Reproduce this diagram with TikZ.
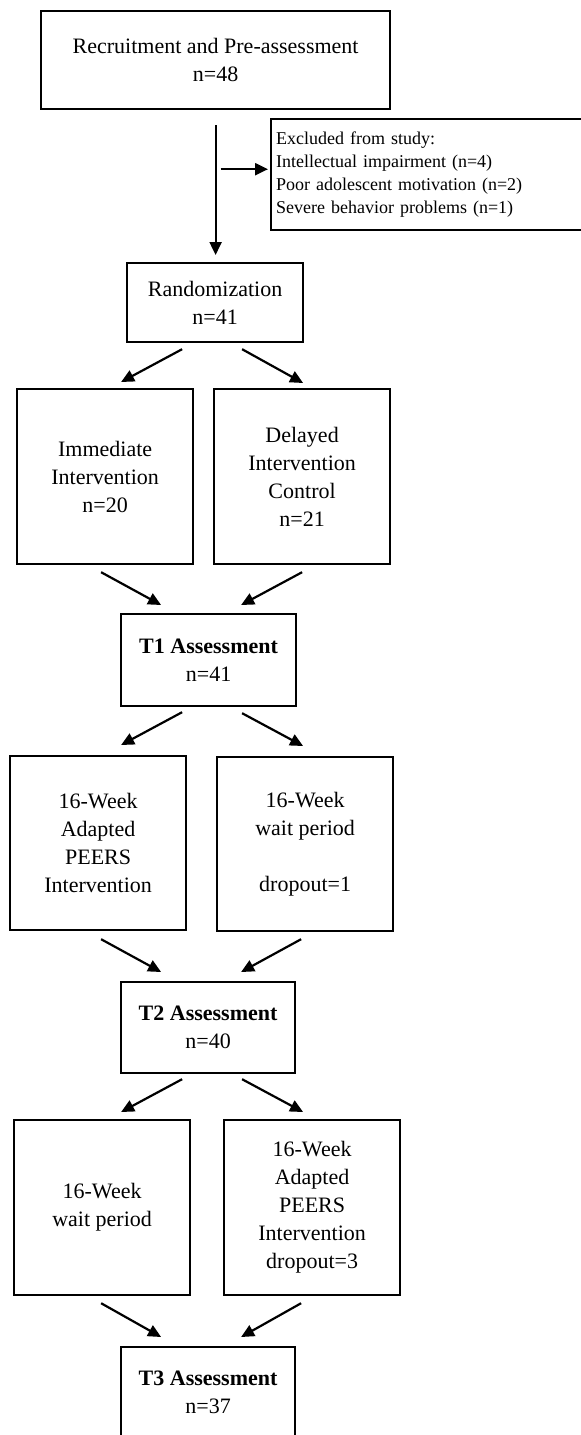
\documentclass[tikz,border=0pt]{standalone}
\usepackage{fontspec}
\setmainfont{Liberation Serif}
\usetikzlibrary{calc,arrows.meta}

\begin{document}
\begin{tikzpicture}[x=0.5pt, y=-0.5pt]
    \tikzstyle{arrow} = [-{Triangle[length=6.5pt,width=6pt]}, line width=1.1pt]
    \tikzstyle{rec} = [rectangle, draw=black, line width=1.1pt, align=center,
        inner sep=0pt, fill=white, font=\fontsize{11pt}{14pt}\selectfont]

    \clip (0,0) rectangle (581,1435);

    \node(recruit) [rec, minimum width=174.5pt, minimum height=49pt]
        at (40,10) [anchor=north west]
        {Recruitment and Pre-assessment\\ n=48};
    \node(excl) [rec, align=left, inner xsep=2.5pt, text width=160pt,
        minimum width=165pt, minimum height=55.5pt,
        font=\fontsize{9pt}{11.5pt}\selectfont]
        at (270,118) [anchor=north west]
        {Excluded from study:\\ Intellectual impairment (n=4)\\
        Poor adolescent motivation (n=2)\\ Severe behavior problems (n=1)};
    \node(rand) [rec, minimum width=88pt, minimum height=39.5pt]
        at (126,262) [anchor=north west]
        {Randomization\\ n=41};
    \node(imm) [rec, minimum width=88pt, minimum height=87.5pt]
        at (16,388) [anchor=north west]
        {Immediate\\ Intervention\\ n=20};
    \node(del) [rec, minimum width=88pt, minimum height=87.5pt]
        at (213,388) [anchor=north west]
        {Delayed\\ Intervention\\ Control\\ n=21};
    \node(tone) [rec, minimum width=87.5pt, minimum height=46pt]
        at (120,613) [anchor=north west]
        {\textbf{T1 Assessment}\\ n=41};
    \node(peersa) [rec, minimum width=88pt, minimum height=87pt]
        at (9,755) [anchor=north west]
        {16-Week\\ Adapted\\ PEERS\\ Intervention};
    \node(waita) [rec, minimum width=88pt, minimum height=87pt]
        at (216,756) [anchor=north west]
        {16-Week\\ wait period\\[14pt] dropout=1};
    \node(ttwo) [rec, minimum width=87pt, minimum height=45.5pt]
        at (120,981) [anchor=north west]
        {\textbf{T2 Assessment}\\ n=40};
    \node(waitb) [rec, minimum width=88pt, minimum height=87.5pt]
        at (13,1119) [anchor=north west]
        {16-Week\\ wait period};
    \node(peersb) [rec, minimum width=88pt, minimum height=87.5pt]
        at (223,1119) [anchor=north west]
        {16-Week\\ Adapted\\ PEERS\\ Intervention\\ dropout=3};
    \node(tthree) [rec, minimum width=87pt, minimum height=45.5pt]
        at (120,1346) [anchor=north west]
        {\textbf{T3 Assessment}\\ n=37};

    \coordinate (split) at ($(recruit.south)+(0,59)$);

    \draw[arrow] ($(recruit.south)+(0,15)$)
        -- ($(recruit.south |- rand.north)+(0,-7)$);
    \draw[arrow] ($(split)+(5,0)$) -- ($(split -| excl.west)+(-2,0)$);

    \draw[arrow] ($(rand.south)+(-33,6)$) -- ($(imm.north)+(16,-6)$);
    \draw[arrow] ($(rand.south)+(27,6)$) -- ($(del.north)+(1,-5)$);
    \draw[arrow] ($(imm.south)+(-4,7)$) -- ($(tone.north)+(-47.5,-8)$);
    \draw[arrow] ($(del.south)+(0,7)$) -- ($(tone.north)+(32.5,-8)$);

    \draw[arrow] ($(tone.south)+(-26.5,5)$) -- ($(peersa.north)+(23,-10)$);
    \draw[arrow] ($(tone.south)+(33.5,6)$) -- ($(waita.north)+(-2,-10)$);
    \draw[arrow] ($(peersa.south)+(3,8)$) -- ($(ttwo.north)+(-47,-9)$);
    \draw[arrow] ($(waita.south)+(-4,7)$) -- ($(ttwo.north)+(33,-9)$);

    \draw[arrow] ($(ttwo.south)+(-26,5)$) -- ($(waitb.north)+(19,-7)$);
    \draw[arrow] ($(ttwo.south)+(34,5)$) -- ($(peersb.north)+(-9,-7)$);
    \draw[arrow] ($(waitb.south)+(-1,7)$) -- ($(tthree.north)+(-47,-9)$);
    \draw[arrow] ($(peersb.south)+(-11,7)$) -- ($(tthree.north)+(33,-9)$);
\end{tikzpicture}
\end{document}
